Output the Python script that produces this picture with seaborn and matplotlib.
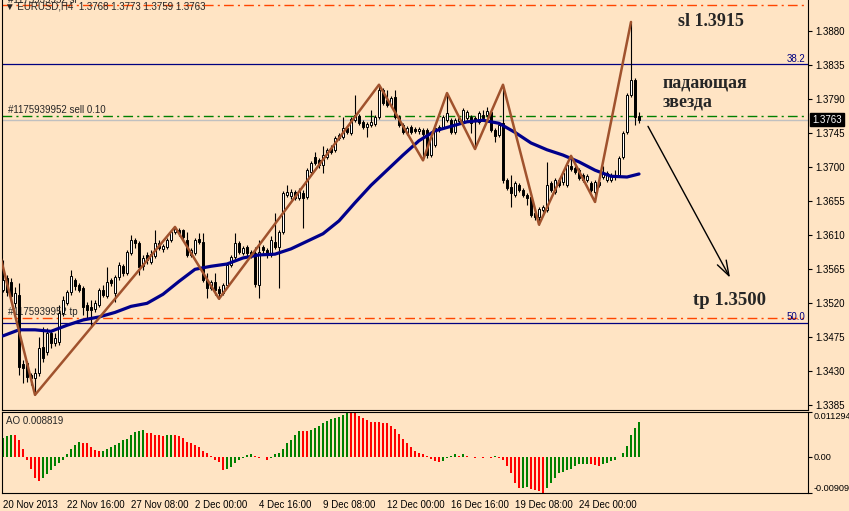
import numpy as np
import pandas as pd
import matplotlib
matplotlib.use('Agg')
import matplotlib.pyplot as plt
import matplotlib.transforms as mtransforms
import seaborn as sns

# EURUSD H4 candles (20 Nov - 26 Dec 2013)
opens = [
    1.3538, 1.3553, 1.3548, 1.3520, 1.3531, 1.3440, 1.3441, 1.3425, 1.3421, 1.3428,
    1.3462, 1.3456, 1.3481, 1.3468, 1.3469, 1.3507, 1.3520, 1.3535, 1.3551, 1.3544,
    1.3540, 1.3518, 1.3515, 1.3512, 1.3518, 1.3538, 1.3530, 1.3551, 1.3534, 1.3555,
    1.3569, 1.3560, 1.3586, 1.3604, 1.3600, 1.3569, 1.3584, 1.3575, 1.3583, 1.3600,
    1.3592, 1.3594, 1.3604, 1.3614, 1.3617, 1.3617, 1.3604, 1.3584, 1.3586, 1.3605,
    1.3601, 1.3551, 1.3540, 1.3548, 1.3539, 1.3534, 1.3544, 1.3571, 1.3581, 1.3600,
    1.3586, 1.3594, 1.3588, 1.3586, 1.3544, 1.3594, 1.3590, 1.3584, 1.3601, 1.3594,
    1.3614, 1.3663, 1.3662, 1.3667, 1.3659, 1.3666, 1.3661, 1.3694, 1.3713, 1.3709,
    1.3703, 1.3713, 1.3725, 1.3723, 1.3739, 1.3740, 1.3752, 1.3745, 1.3762, 1.3768,
    1.3760, 1.3753, 1.3756, 1.3757, 1.3766, 1.3802, 1.3789, 1.3782, 1.3793, 1.3766,
    1.3756, 1.3745, 1.3753, 1.3750, 1.3748, 1.3749, 1.3749, 1.3716, 1.3729, 1.3749,
    1.3753, 1.3762, 1.3762, 1.3746, 1.3761, 1.3760, 1.3765, 1.3766, 1.3765, 1.3760,
    1.3769, 1.3769, 1.3773, 1.3749, 1.3743, 1.3758, 1.3683, 1.3674, 1.3663, 1.3676,
    1.3670, 1.3663, 1.3661, 1.3639, 1.3634, 1.3643, 1.3643, 1.3679, 1.3667, 1.3683,
    1.3680, 1.3676, 1.3702, 1.3699, 1.3696, 1.3690, 1.3683, 1.3679, 1.3667, 1.3680,
    1.3687, 1.3683, 1.3683, 1.3687, 1.3690, 1.3713, 1.3746, 1.3795, 1.3815, 1.3768,
]
highs = [
    1.3577, 1.3557, 1.3553, 1.3542, 1.3547, 1.3445, 1.3444, 1.3428, 1.3435, 1.3475,
    1.3489, 1.3487, 1.3485, 1.3481, 1.3518, 1.3530, 1.3538, 1.3564, 1.3553, 1.3547,
    1.3543, 1.3522, 1.3524, 1.3524, 1.3540, 1.3544, 1.3568, 1.3553, 1.3557, 1.3575,
    1.3572, 1.3590, 1.3610, 1.3606, 1.3602, 1.3584, 1.3588, 1.3590, 1.3617, 1.3604,
    1.3598, 1.3606, 1.3617, 1.3621, 1.3620, 1.3618, 1.3614, 1.3593, 1.3606, 1.3613,
    1.3613, 1.3560, 1.3551, 1.3560, 1.3543, 1.3547, 1.3573, 1.3584, 1.3613, 1.3602,
    1.3596, 1.3597, 1.3590, 1.3594, 1.3604, 1.3597, 1.3593, 1.3609, 1.3639, 1.3617,
    1.3668, 1.3676, 1.3671, 1.3670, 1.3672, 1.3670, 1.3699, 1.3708, 1.3720, 1.3712,
    1.3728, 1.3725, 1.3729, 1.3741, 1.3745, 1.3766, 1.3754, 1.3766, 1.3795, 1.3770,
    1.3762, 1.3760, 1.3776, 1.3769, 1.3809, 1.3805, 1.3802, 1.3794, 1.3802, 1.3769,
    1.3758, 1.3754, 1.3756, 1.3753, 1.3753, 1.3752, 1.3752, 1.3743, 1.3754, 1.3756,
    1.3769, 1.3798, 1.3765, 1.3765, 1.3768, 1.3778, 1.3776, 1.3769, 1.3768, 1.3774,
    1.3776, 1.3780, 1.3776, 1.3752, 1.3758, 1.3809, 1.3686, 1.3690, 1.3682, 1.3679,
    1.3672, 1.3666, 1.3663, 1.3642, 1.3647, 1.3650, 1.3707, 1.3682, 1.3686, 1.3686,
    1.3695, 1.3706, 1.3715, 1.3702, 1.3699, 1.3692, 1.3691, 1.3682, 1.3683, 1.3683,
    1.3702, 1.3695, 1.3692, 1.3696, 1.3715, 1.3748, 1.3798, 1.3892, 1.3818, 1.3773,
]
lows = [
    1.3535, 1.3530, 1.3522, 1.3515, 1.3425, 1.3415, 1.3416, 1.3412, 1.3399, 1.3424,
    1.3442, 1.3452, 1.3461, 1.3464, 1.3465, 1.3503, 1.3518, 1.3531, 1.3538, 1.3535,
    1.3505, 1.3501, 1.3489, 1.3509, 1.3515, 1.3528, 1.3527, 1.3543, 1.3522, 1.3551,
    1.3556, 1.3557, 1.3584, 1.3593, 1.3557, 1.3564, 1.3572, 1.3572, 1.3580, 1.3590,
    1.3588, 1.3592, 1.3601, 1.3612, 1.3609, 1.3604, 1.3581, 1.3581, 1.3584, 1.3598,
    1.3548, 1.3527, 1.3538, 1.3531, 1.3526, 1.3531, 1.3542, 1.3568, 1.3579, 1.3585,
    1.3584, 1.3583, 1.3580, 1.3542, 1.3527, 1.3586, 1.3580, 1.3581, 1.3592, 1.3540,
    1.3612, 1.3661, 1.3658, 1.3657, 1.3657, 1.3620, 1.3658, 1.3691, 1.3703, 1.3699,
    1.3692, 1.3711, 1.3717, 1.3720, 1.3736, 1.3737, 1.3744, 1.3743, 1.3760, 1.3756,
    1.3750, 1.3740, 1.3753, 1.3754, 1.3764, 1.3782, 1.3780, 1.3780, 1.3764, 1.3753,
    1.3744, 1.3743, 1.3744, 1.3745, 1.3744, 1.3709, 1.3712, 1.3713, 1.3727, 1.3746,
    1.3750, 1.3760, 1.3744, 1.3744, 1.3758, 1.3757, 1.3762, 1.3745, 1.3724, 1.3757,
    1.3762, 1.3766, 1.3746, 1.3733, 1.3740, 1.3679, 1.3670, 1.3647, 1.3661, 1.3667,
    1.3661, 1.3650, 1.3634, 1.3630, 1.3624, 1.3641, 1.3641, 1.3667, 1.3665, 1.3674,
    1.3677, 1.3674, 1.3695, 1.3691, 1.3683, 1.3680, 1.3680, 1.3667, 1.3654, 1.3674,
    1.3684, 1.3680, 1.3680, 1.3683, 1.3687, 1.3711, 1.3744, 1.3793, 1.3756, 1.3759,
]
closes = [
    1.3551, 1.3535, 1.3530, 1.3534, 1.3436, 1.3435, 1.3423, 1.3421, 1.3428, 1.3461,
    1.3448, 1.3481, 1.3468, 1.3474, 1.3507, 1.3524, 1.3535, 1.3556, 1.3543, 1.3538,
    1.3515, 1.3511, 1.3511, 1.3520, 1.3538, 1.3531, 1.3548, 1.3547, 1.3555, 1.3571,
    1.3560, 1.3588, 1.3604, 1.3600, 1.3568, 1.3580, 1.3577, 1.3585, 1.3600, 1.3593,
    1.3596, 1.3604, 1.3614, 1.3618, 1.3613, 1.3608, 1.3584, 1.3590, 1.3604, 1.3601,
    1.3551, 1.3540, 1.3548, 1.3538, 1.3534, 1.3544, 1.3571, 1.3581, 1.3600, 1.3588,
    1.3593, 1.3586, 1.3585, 1.3546, 1.3588, 1.3590, 1.3584, 1.3604, 1.3594, 1.3614,
    1.3666, 1.3667, 1.3667, 1.3659, 1.3668, 1.3659, 1.3696, 1.3706, 1.3706, 1.3703,
    1.3716, 1.3723, 1.3720, 1.3739, 1.3743, 1.3752, 1.3746, 1.3764, 1.3769, 1.3758,
    1.3753, 1.3757, 1.3760, 1.3766, 1.3802, 1.3785, 1.3782, 1.3791, 1.3766, 1.3756,
    1.3746, 1.3752, 1.3746, 1.3748, 1.3750, 1.3744, 1.3716, 1.3740, 1.3752, 1.3753,
    1.3766, 1.3772, 1.3746, 1.3762, 1.3765, 1.3776, 1.3773, 1.3758, 1.3761, 1.3772,
    1.3765, 1.3774, 1.3749, 1.3741, 1.3756, 1.3683, 1.3672, 1.3666, 1.3679, 1.3670,
    1.3663, 1.3659, 1.3637, 1.3634, 1.3645, 1.3647, 1.3676, 1.3670, 1.3683, 1.3676,
    1.3692, 1.3703, 1.3698, 1.3694, 1.3686, 1.3683, 1.3688, 1.3670, 1.3680, 1.3676,
    1.3692, 1.3692, 1.3690, 1.3690, 1.3712, 1.3745, 1.3795, 1.3815, 1.3766, 1.3763,
]

# Awesome Oscillator, one value per candle
ao = [
    0.0047, 0.0052, 0.0056, 0.0054, 0.0043, 0.0019, -0.0007, -0.0030, -0.0052, -0.0060,
    -0.0053, -0.0043, -0.0034, -0.0024, -0.0016, -0.0007, 0.0007, 0.0019, 0.0030, 0.0037,
    0.0036, 0.0034, 0.0024, 0.0017, 0.0015, 0.0016, 0.0020, 0.0026, 0.0030, 0.0036,
    0.0043, 0.0045, 0.0054, 0.0062, 0.0066, 0.0067, 0.0060, 0.0059, 0.0056, 0.0054,
    0.0053, 0.0055, 0.0056, 0.0054, 0.0053, 0.0047, 0.0037, 0.0036, 0.0030, 0.0024,
    0.0016, 0.0009, 0.0003, -0.0007, -0.0013, -0.0033, -0.0030, -0.0026, -0.0016, -0.0009,
    -0.0002, 0.0004, 0.0006, 0.0002, -0.0002, -0.0001, -0.0007, -0.0003, 0.0007, 0.0009,
    0.0019, 0.0034, 0.0043, 0.0056, 0.0066, 0.0065, 0.0064, 0.0067, 0.0072, 0.0078,
    0.0084, 0.0090, 0.0095, 0.0097, 0.0100, 0.0105, 0.011294, 0.0112, 0.0110, 0.0104,
    0.0098, 0.0092, 0.0089, 0.0088, 0.0087, 0.0086, 0.0085, 0.0078, 0.0071, 0.0058,
    0.0045, 0.0035, 0.0024, 0.0014, 0.0009, 0.0006, 0.0002, -0.0005, -0.0010, -0.0013,
    -0.0010, -0.0002, 0.0003, 0.0007, 0.0003, 0.0007, 0.0003, -0.0001, -0.0002, -0.0001,
    -0.0002, -0.0001, -0.0002, 0.0002, -0.0002, -0.0009, -0.0023, -0.0041, -0.0065, -0.0079,
    -0.0078, -0.0077, -0.0080, -0.0083, -0.0087, -0.00909, -0.0079, -0.0065, -0.0053, -0.0041,
    -0.0039, -0.0034, -0.0030, -0.0024, -0.0019, -0.0018, -0.0017, -0.0018, -0.0021, -0.0022,
    -0.0018, -0.0016, -0.0011, -0.0007, -0.0001, 0.0010, 0.0028, 0.0056, 0.0073, 0.008819,
]

# moving average, read every 4th bar
ma_bar = [0, 4, 8, 12, 16, 20, 24, 28, 32, 36, 40, 44, 48, 52, 56, 60, 64, 68, 72, 76,
          80, 84, 88, 92, 96, 100, 104, 108, 112, 116, 120, 124, 128, 132, 136, 140,
          144, 148, 152, 156, 159]
ma_val = [1.3477, 1.3485, 1.3485, 1.3483, 1.3491, 1.3498, 1.3502, 1.3508, 1.3516, 1.3520,
          1.3532, 1.3549, 1.3565, 1.3569, 1.3572, 1.3580, 1.3584, 1.3585, 1.3592, 1.3602,
          1.3612, 1.3629, 1.3653, 1.3676, 1.3696, 1.3716, 1.3735, 1.3748, 1.3754, 1.3760,
          1.3762, 1.3758, 1.3746, 1.3732, 1.3723, 1.3716, 1.3707, 1.3696, 1.3688, 1.3687,
          1.3691]

# zigzag turning points
zz_bar = [-1, 8, 43, 54, 94, 105, 111, 118, 125, 134, 142, 148, 157]
zz_val = [1.3589, 1.3399, 1.3621, 1.3526, 1.3809, 1.3709, 1.3798, 1.3724, 1.3809,
          1.3624, 1.3715, 1.3654, 1.3892]

sl_price = 1.3915
tp_price = 1.3500
sell_price = 1.3767
bid_price = 1.3763
fib_382 = 1.3836
fib_500 = 1.3494

price_ticks = [1.3385, 1.3430, 1.3475, 1.3520, 1.3565, 1.3610, 1.3655,
               1.3700, 1.3745, 1.3790, 1.3835, 1.3880]
date_bars = [0, 16, 32, 48, 64, 80, 96, 112, 128, 144]
date_labels = ['20 Nov 2013', '22 Nov 16:00', '27 Nov 08:00', '2 Dec 00:00',
               '4 Dec 16:00', '9 Dec 08:00', '12 Dec 00:00', '16 Dec 16:00',
               '19 Dec 08:00', '24 Dec 00:00']
ao_ticks = [-0.00909, 0.0, 0.011294]
ao_labels = ['-0.00909', '0.00', '0.011294']

bg = '#FFE4C4'
sns.set_theme(style='white', rc={'axes.facecolor': bg, 'figure.facecolor': bg,
                                 'savefig.facecolor': bg})
plt.rcParams['font.family'] = ['Liberation Sans', 'DejaVu Sans']
serif = ['Liberation Serif', 'DejaVu Serif']

df = pd.DataFrame({'o': opens, 'h': highs, 'l': lows, 'c': closes})
df['bar'] = np.arange(len(df))
up = df.c >= df.o

fig = plt.figure(figsize=(8.49, 5.11), dpi=100)
ax = fig.add_axes([2 / 849, 1 - 410 / 511, 806 / 849, 410 / 511])
ax2 = fig.add_axes([2 / 849, 1 - 493 / 511, 806 / 849, 81 / 511])
right_t = mtransforms.blended_transform_factory(ax.transAxes, ax.transData)

# horizontal levels
dashdot = (0, (7, 3, 1.5, 3))
ax.axhline(sl_price, color='#FF4500', lw=1, ls=dashdot, zorder=1)
ax.axhline(tp_price, color='#FF4500', lw=1, ls=dashdot, zorder=1)
ax.axhline(bid_price, color='#C0C0C0', lw=1, zorder=1)
ax.axhline(sell_price, color='#008000', lw=1, ls=dashdot, zorder=1)
ax.axhline(fib_382, color='#000080', lw=0.9, zorder=1)
ax.axhline(fib_500, color='#000080', lw=0.9, zorder=1)

# candles
ax.vlines(df.bar, df.l, df.h, color='black', lw=0.8, zorder=3)
body_bottom = df[['o', 'c']].min(axis=1)
body_h = (df.c - df.o).abs().clip(lower=0.00005)
ax.bar(df.bar, body_h, bottom=body_bottom, width=0.5,
       color=np.where(up, 'white', 'black'), edgecolor='black', lw=0.7, zorder=4)

sns.lineplot(x=ma_bar, y=ma_val, ax=ax, color='#00008B', lw=2.3, zorder=5)
sns.lineplot(x=zz_bar, y=zz_val, ax=ax, color='#A0522D', lw=1.8, zorder=6, sort=False)

ax.set_xlim(-0.25, 201.25)
ax.set_ylim(1.3379, 1.3921)
ax.set_xticks([])
ax.yaxis.tick_right()
ax.set_yticks(price_ticks)
ax.set_yticklabels([f'{p:.4f}' for p in price_ticks])
ax.tick_params(axis='y', direction='out', length=3, width=0.8, colors='black',
               labelsize=7, pad=2)
ax.set_xlabel('')
ax.set_ylabel('')
for side in ['left', 'right', 'bottom']:
    ax.spines[side].set_color('black')
    ax.spines[side].set_linewidth(0.8)
ax.spines['top'].set_visible(False)

# labels on the levels
ax.text(1.25, sl_price, '#1175939952 sl', fontsize=7, va='bottom', ha='left', clip_on=False)
ax.text(1.25, sell_price + 0.0002, '#1175939952 sell 0.10', fontsize=7, va='bottom', ha='left')
ax.text(1.25, tp_price + 0.0002, '#1175939952 tp', fontsize=7, va='bottom', ha='left')
ax.text(0.997, fib_382 + 0.0001, '38.2', transform=right_t,
        fontsize=7, color='#000080', ha='right', va='bottom')
ax.text(0.997, fib_500 + 0.0001, '50.0', transform=right_t,
        fontsize=7, color='#000080', ha='right', va='bottom')
ax.text(0.004, 0.983, '▼ EURUSD,H4  1.3768 1.3773 1.3759 1.3763', transform=ax.transAxes,
        fontsize=7, va='center', ha='left')
ax.text(1.005, bid_price, '1.3763', transform=right_t,
        fontsize=7, color='white', va='center', ha='left', clip_on=False,
        bbox=dict(boxstyle='square,pad=0.2', fc='black', ec='black'))

# annotations
ax.text(168.75, 1.3893, 'sl 1.3915', family=serif, weight='bold', fontsize=13, va='center', ha='left')
ax.text(165, 1.3811, 'падающая', family=serif, weight='bold', fontsize=13, va='center', ha='left')
ax.text(165, 1.3786, 'звезда', family=serif, weight='bold', fontsize=13, va='center', ha='left')
ax.text(172.5, 1.3524, 'tp 1.3500', family=serif, weight='bold', fontsize=13.5, va='center', ha='left')
ax.annotate('', xy=(181.75, 1.3554), xytext=(161.25, 1.3754),
            arrowprops=dict(arrowstyle='->,head_length=0.9,head_width=0.3', color='black',
                            lw=1, shrinkA=0, shrinkB=0))

# AO histogram
ao_df = pd.DataFrame({'bar': np.arange(len(ao)), 'ao': ao})
rising = ao_df.ao.diff().fillna(1) > 0
ax2.bar(ao_df.bar, ao_df.ao, width=0.65, color=np.where(rising, '#008000', '#FF0000'), lw=0)
ax2.set_xlim(-0.25, 201.25)
ax2.set_ylim(-0.00909, 0.011294)
ax2.yaxis.tick_right()
ax2.set_yticks(ao_ticks)
ax2.set_yticklabels(ao_labels)
ax2.set_xticks(date_bars)
ax2.set_xticklabels(date_labels)
for t in ax2.get_xticklabels():
    t.set_ha('left')
ax2.tick_params(axis='both', direction='out', length=3, width=0.8, colors='black',
                labelsize=7, pad=2)
ax2.tick_params(axis='y', labelsize=6.6, pad=1)
labs = ax2.get_yticklabels()
labs[0].set_va('bottom')
labs[2].set_va('top')
for side in ['left', 'right', 'bottom', 'top']:
    ax2.spines[side].set_color('black')
    ax2.spines[side].set_linewidth(0.8)
ax2.text(0.005, 0.89, 'AO 0.008819', transform=ax2.transAxes, fontsize=7, va='center', ha='left')

fig.savefig('out.png', dpi=100, facecolor=bg)
